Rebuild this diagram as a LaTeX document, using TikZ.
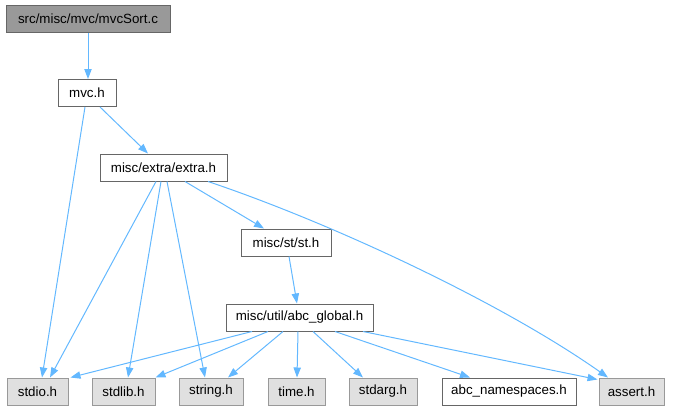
\documentclass[tikz,border=0pt]{standalone}
\usepackage{fontspec}
\setmainfont{Liberation Sans}
\usetikzlibrary{calc,arrows.meta}
\definecolor{edgeblue}{HTML}{63B8FF}
\definecolor{rootfill}{HTML}{999999}
\definecolor{rootdraw}{HTML}{666666}
\definecolor{sysfill}{HTML}{E0E0E0}
\definecolor{sysdraw}{HTML}{999999}
\tikzset{
  basebox/.style={rectangle, inner sep=0pt, minimum height=27*0.75pt, font=\fontsize{10}{12}\selectfont, line width=0.75pt},
  rootbox/.style={basebox, draw=rootdraw, fill=rootfill},
  filebox/.style={basebox, draw=rootdraw, fill=white},
  sysbox/.style={basebox, draw=sysdraw, fill=sysfill},
  dep/.style={draw=edgeblue, line width=0.75pt, -{Triangle[length=7.5pt,width=5.5pt,fill=edgeblue]}}
}
\begin{document}
\begin{tikzpicture}[x=0.75pt,y=-0.75pt]
\useasboundingbox (0,0) rectangle (674,411);
\node[rootbox, minimum width=164*0.75pt] (root) at (88,18.5) {src/misc/mvc/mvcSort.c};
\node[filebox, minimum width=58*0.75pt] (mvc) at (87,93) {mvc.h};
\node[filebox, minimum width=127*0.75pt] (extra) at (163.5,167.5) {misc/extra/extra.h};
\node[filebox, minimum width=90*0.75pt] (st) at (286,242.5) {misc/st/st.h};
\node[filebox, minimum width=147*0.75pt] (abc) at (299.5,317.5) {misc/util/abc\_global.h};
\node[sysbox, minimum width=61*0.75pt] (stdio) at (37.5,391.5) {stdio.h};
\node[sysbox, minimum width=63*0.75pt] (stdlib) at (123.5,391.5) {stdlib.h};
\node[sysbox, minimum width=64*0.75pt] (string) at (211,391.5) {string.h};
\node[sysbox, minimum width=57*0.75pt] (time) at (296.5,391.5) {time.h};
\node[sysbox, minimum width=68*0.75pt] (stdarg) at (383,391.5) {stdarg.h};
\node[filebox, minimum width=134*0.75pt] (ns) at (509,391.5) {abc\_namespaces.h};
\node[sysbox, minimum width=65*0.75pt] (assert) at (631.5,391.5) {assert.h};

\draw[dep] (root.south) -- (root.south |- mvc.north);
\draw[dep] ($(mvc.south)+(-2,0)$) -- ($(stdio.north)+(4.5,0)$);
\draw[dep] ($(mvc.south)+(13,0)$) -- ($(extra.north)+(-15.5,0)$);
\draw[dep] ($(extra.south)+(-7.5,0)$) -- ($(stdio.north)+(12.5,0)$);
\draw[dep] ($(extra.south)+(-2.5,0)$) -- ($(stdlib.north)+(4.5,0)$);
\draw[dep] ($(extra.south)+(3.5,0)$) -- ($(string.north)+(-6,0)$);
\draw[dep] ($(extra.south)+(21.5,0)$) -- ($(st.north)+(-22,0)$);
\draw[dep] ($(extra.south)+(44.5,0)$) .. controls ($(extra.south)+(166.5,41)$) and ($(assert.north)+(-131.5,-76)$) .. ($(assert.north)+(-23.5,0)$);
\draw[dep] ($(st.south)+(3,0)$) -- ($(abc.north)+(-2.5,0)$);
\draw[dep] ($(abc.south)+(-47.5,0)$) -- ($(stdio.north east)+(2,0)$);
\draw[dep] ($(abc.south)+(-31.5,0)$) -- (stdlib.north east);
\draw[dep] ($(abc.south)+(-16.5,0)$) -- ($(string.north)+(17,0)$);
\draw[dep] ($(abc.south)+(-1.5,0)$) -- ($(time.north)+(0.5,0)$);
\draw[dep] ($(abc.south)+(13.5,0)$) -- ($(stdarg.north)+(-20,0)$);
\draw[dep] ($(abc.south)+(35.5,0)$) -- ($(ns.north)+(-39,0)$);
\draw[dep] ($(abc.south)+(63.5,0)$) -- ($(assert.north west)+(-1,2)$);
\end{tikzpicture}
\end{document}
